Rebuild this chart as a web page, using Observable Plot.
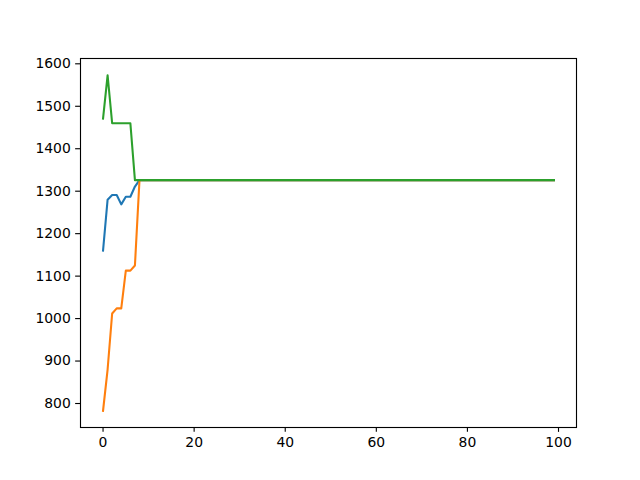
<!DOCTYPE html>
<html><head><meta charset="utf-8">
<script src="https://cdn.jsdelivr.net/npm/d3@7"></script>
<script src="https://cdn.jsdelivr.net/npm/@observablehq/plot@0.6"></script>
<style>body{margin:0;background:#fff}</style>
</head><body><div id="chart"></div>
<script>
const seriesNames = ["series 1", "series 2", "series 3"];
const seriesColors = ["#1f77b4", "#ff7f0e", "#2ca02c"];
const xTicks = [0, 20, 40, 60, 80, 100];
const yTicks = [800, 900, 1000, 1100, 1200, 1300, 1400, 1500, 1600];

const series1 = [
1160,1280,1291,1291,1269,1287,1287,1311,1326,1326,
1326,1326,1326,1326,1326,1326,1326,1326,1326,1326,
1326,1326,1326,1326,1326,1326,1326,1326,1326,1326,
1326,1326,1326,1326,1326,1326,1326,1326,1326,1326,
1326,1326,1326,1326,1326,1326,1326,1326,1326,1326,
1326,1326,1326,1326,1326,1326,1326,1326,1326,1326,
1326,1326,1326,1326,1326,1326,1326,1326,1326,1326,
1326,1326,1326,1326,1326,1326,1326,1326,1326,1326,
1326,1326,1326,1326,1326,1326,1326,1326,1326,1326,
1326,1326,1326,1326,1326,1326,1326,1326,1326,1326];

const series2 = [
783,880,1012,1024,1024,1113,1113,1125,1326,1326,
1326,1326,1326,1326,1326,1326,1326,1326,1326,1326,
1326,1326,1326,1326,1326,1326,1326,1326,1326,1326,
1326,1326,1326,1326,1326,1326,1326,1326,1326,1326,
1326,1326,1326,1326,1326,1326,1326,1326,1326,1326,
1326,1326,1326,1326,1326,1326,1326,1326,1326,1326,
1326,1326,1326,1326,1326,1326,1326,1326,1326,1326,
1326,1326,1326,1326,1326,1326,1326,1326,1326,1326,
1326,1326,1326,1326,1326,1326,1326,1326,1326,1326,
1326,1326,1326,1326,1326,1326,1326,1326,1326,1326];

const series3 = [
1471,1573,1460,1460,1460,1460,1460,1326,1326,1326,
1326,1326,1326,1326,1326,1326,1326,1326,1326,1326,
1326,1326,1326,1326,1326,1326,1326,1326,1326,1326,
1326,1326,1326,1326,1326,1326,1326,1326,1326,1326,
1326,1326,1326,1326,1326,1326,1326,1326,1326,1326,
1326,1326,1326,1326,1326,1326,1326,1326,1326,1326,
1326,1326,1326,1326,1326,1326,1326,1326,1326,1326,
1326,1326,1326,1326,1326,1326,1326,1326,1326,1326,
1326,1326,1326,1326,1326,1326,1326,1326,1326,1326,
1326,1326,1326,1326,1326,1326,1326,1326,1326,1326];

const rows = [];
[series1, series2, series3].forEach((s, k) =>
  s.forEach((v, i) => rows.push({series: seriesNames[k], step: i, value: v})));

const chart = Plot.plot({
  width: 640, height: 480,
  marginLeft: 80, marginRight: 64, marginTop: 58, marginBottom: 53,
  style: {fontFamily: "DejaVu Sans", fontSize: "13.9px", background: "white", color: "black"},
  x: {domain: [-4.95, 103.95]},
  y: {domain: [743.5, 1612.5]},
  color: {domain: seriesNames, range: seriesColors},
  marks: [
    Plot.line(rows, {x: "step", y: "value", z: "series", stroke: "series", strokeWidth: 2.08, strokeLinejoin: "round", strokeLinecap: "square"}),
    Plot.axisX({ticks: xTicks, tickFormat: d => String(d), tickSize: 4.86, tickPadding: 4.86, label: null, strokeWidth: 1.11}),
    Plot.axisY({ticks: yTicks, tickFormat: d => String(d), tickSize: 4.86, tickPadding: 4.86, label: null, strokeWidth: 1.11}),
    Plot.frame({stroke: "black", strokeWidth: 1.11})
  ]
});
document.getElementById("chart").appendChild(chart);
</script>
</body></html>
